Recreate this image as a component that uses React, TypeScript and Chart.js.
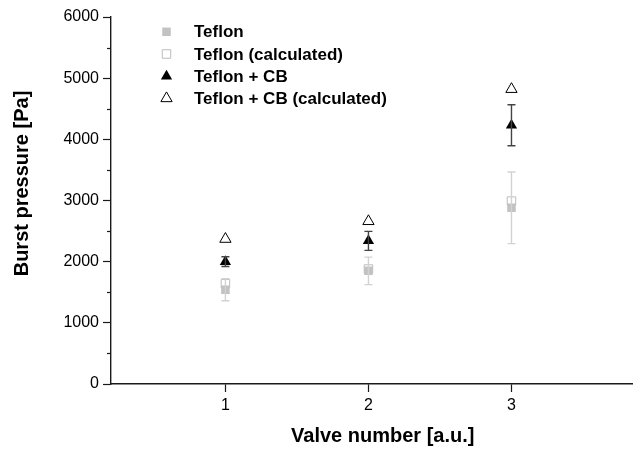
import React, { useEffect, useRef } from 'react';
import { Chart, registerables } from 'chart.js';
import { drawPoint } from 'chart.js/helpers';

Chart.register(...registerables);

// ---- data ----
const valves = [1, 2, 3];
const teflon = [1540, 1850, 2880];
const teflonErr = [180, 225, 585];
const teflonCalc = [1640, 1880, 2990];
const teflonCb = [2000, 2340, 4230];
const teflonCbErr = [80, 155, 335];
const teflonCbCalc = [2370, 2660, 4820];
const seriesLabels = ['Teflon', 'Teflon (calculated)', 'Teflon + CB', 'Teflon + CB (calculated)'];
const xTickValues = [1, 2, 3];
const yMinorTickValues = [500, 1500, 2500, 3500, 4500, 5500];
const xTitle = 'Valve number [a.u.]';
const yTitle = 'Burst pressure [Pa]';

const FONT = '"Liberation Sans", Arial, Helvetica, sans-serif';
const AXIS = '#1a1a1a';

const toPts = (ys: number[]) => valves.map((x, i) => ({ x, y: ys[i] }));

const errorBarPlugin = {
  id: 'errorBars',
  afterDatasetsDraw(chart: any) {
    const ctx = chart.ctx;
    const yScale = chart.scales.y;
    chart.data.datasets.forEach((ds: any, i: number) => {
      if (!ds.errors) return;
      const meta = chart.getDatasetMeta(i);
      ctx.save();
      ctx.strokeStyle = ds.errorColor;
      ctx.lineWidth = 1.4;
      meta.data.forEach((pt: any, j: number) => {
        const v = ds.data[j].y;
        const e = ds.errors[j];
        const yTop = yScale.getPixelForValue(v + e);
        const yBot = yScale.getPixelForValue(v - e);
        const x = pt.x;
        const cap = 4;
        ctx.beginPath();
        ctx.moveTo(x, yTop);
        ctx.lineTo(x, yBot);
        ctx.moveTo(x - cap, yTop);
        ctx.lineTo(x + cap, yTop);
        ctx.moveTo(x - cap, yBot);
        ctx.lineTo(x + cap, yBot);
        ctx.stroke();
      });
      ctx.restore();
    });
  },
};

const minorTickPlugin = {
  id: 'minorTicks',
  afterDraw(chart: any) {
    const ctx = chart.ctx;
    const yScale = chart.scales.y;
    const left = chart.chartArea.left;
    ctx.save();
    ctx.strokeStyle = AXIS;
    ctx.lineWidth = 1.2;
    yMinorTickValues.forEach((v) => {
      const y = Math.round(yScale.getPixelForValue(v)) + 0.5;
      ctx.beginPath();
      ctx.moveTo(left - 4, y);
      ctx.lineTo(left, y);
      ctx.stroke();
    });
    ctx.restore();
  },
};

const yTitlePlugin = {
  id: 'yTitle',
  afterDraw(chart: any) {
    const ctx = chart.ctx;
    const area = chart.chartArea;
    ctx.save();
    ctx.translate(22, (area.top + area.bottom) / 2 - 17);
    ctx.rotate(-Math.PI / 2);
    ctx.font = `bold 20px ${FONT}`;
    ctx.fillStyle = '#000';
    ctx.textAlign = 'center';
    ctx.textBaseline = 'middle';
    ctx.fillText(yTitle, 0, 0);
    ctx.restore();
  },
};

const legendPlugin = {
  id: 'insideLegend',
  afterDraw(chart: any) {
    const ctx = chart.ctx;
    const area = chart.chartArea;
    const mx = area.left + 55.5;
    const tx = area.left + 83;
    ctx.save();
    chart.data.datasets.forEach((ds: any, i: number) => {
      const y = area.top + 14.8 + i * 22.2;
      ctx.fillStyle = ds.pointBackgroundColor;
      ctx.strokeStyle = ds.pointBorderColor;
      ctx.lineWidth = ds.pointBorderWidth;
      drawPoint(ctx, { pointStyle: ds.pointStyle, radius: ds.pointRadius, rotation: 0, borderWidth: ds.pointBorderWidth }, mx, y);
      ctx.fillStyle = '#000';
      ctx.font = `bold 17px ${FONT}`;
      ctx.textAlign = 'left';
      ctx.textBaseline = 'middle';
      ctx.fillText(ds.label, tx, y + 1);
    });
    ctx.restore();
  },
};

export default function App() {
  const ref = useRef<HTMLCanvasElement>(null);

  useEffect(() => {
    if (!ref.current) return;
    const chart = new Chart(ref.current, {
      type: 'scatter',
      data: {
        datasets: [
          {
            label: seriesLabels[0],
            data: toPts(teflon),
            pointStyle: 'rect',
            pointRadius: 6,
            pointBackgroundColor: '#c2c2c2',
            pointBorderColor: '#c2c2c2',
            pointBorderWidth: 0,
            errors: teflonErr,
            errorColor: '#d2d2d2',
          } as any,
          {
            label: seriesLabels[1],
            data: toPts(teflonCalc),
            pointStyle: 'rect',
            pointRadius: 6,
            pointBackgroundColor: 'rgba(255,255,255,0)',
            pointBorderColor: '#bcbcbc',
            pointBorderWidth: 1,
          } as any,
          {
            label: seriesLabels[2],
            data: toPts(teflonCb),
            pointStyle: 'triangle',
            pointRadius: 6.5,
            pointBackgroundColor: '#000',
            pointBorderColor: '#000',
            pointBorderWidth: 0,
            errors: teflonCbErr,
            errorColor: '#444',
          } as any,
          {
            label: seriesLabels[3],
            data: toPts(teflonCbCalc),
            pointStyle: 'triangle',
            pointRadius: 6.5,
            pointBackgroundColor: '#fff',
            pointBorderColor: '#000',
            pointBorderWidth: 1,
          } as any,
        ],
      },
      options: {
        animation: false,
        responsive: false,
        devicePixelRatio: 1,
        events: [],
        layout: { padding: { top: 17, left: 0, right: 0, bottom: 0 } },
        plugins: {
          legend: { display: false },
          tooltip: { enabled: false },
        },
        scales: {
          x: {
            type: 'linear',
            min: 0.2,
            max: 4,
            afterBuildTicks: (s: any) => {
              s.ticks = xTickValues.map((v) => ({ value: v }));
            },
            afterFit: (s: any) => {
              s.height = 71;
            },
            grid: { drawOnChartArea: false, tickLength: 8, color: AXIS, tickWidth: 1.2 },
            border: { color: AXIS, width: 1.4 },
            ticks: {
              color: '#000',
              font: { family: FONT, size: 16 },
              padding: 4,
              maxRotation: 0,
              callback: (v: any) => String(v),
            },
            title: {
              display: true,
              text: xTitle,
              color: '#000',
              font: { family: FONT, size: 20, weight: 'bold' },
              padding: { top: 0, bottom: 7 },
            },
          },
          y: {
            type: 'linear',
            min: 0,
            max: 6000,
            afterFit: (s: any) => {
              s.width = 111;
            },
            grid: { drawOnChartArea: false, tickLength: 8, color: AXIS, tickWidth: 1.2 },
            border: { color: AXIS, width: 1.4 },
            ticks: {
              stepSize: 1000,
              color: '#000',
              font: { family: FONT, size: 16 },
              padding: 4,
              callback: (v: any) => String(v),
            },
          },
        },
      } as any,
      plugins: [errorBarPlugin, minorTickPlugin, yTitlePlugin, legendPlugin],
    });
    return () => chart.destroy();
  }, []);

  return (
    <div style={{ position: 'absolute', left: 0, top: 0, width: 633, height: 455, overflow: 'hidden', background: '#fff' }}>
      <canvas ref={ref} width={662} height={455} style={{ display: 'block', width: 662, height: 455 }} />
    </div>
  );
}
